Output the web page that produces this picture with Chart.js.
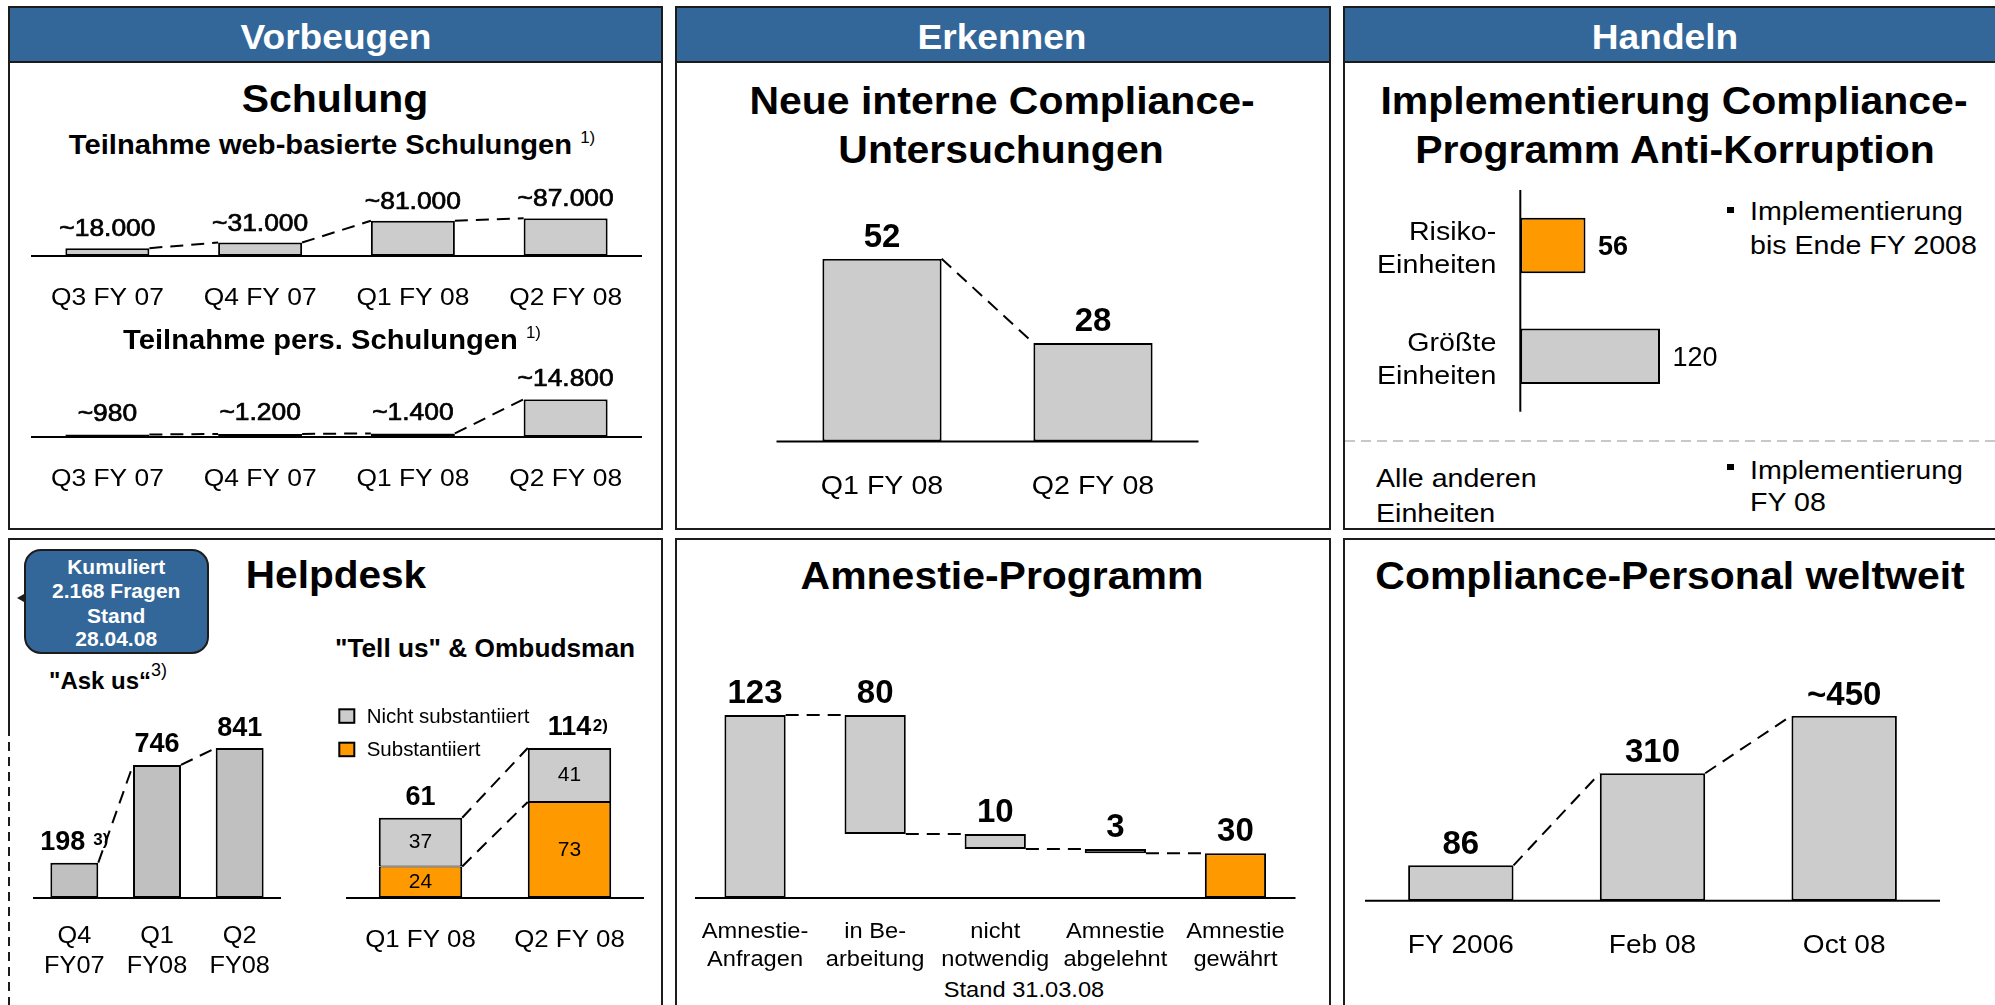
<!DOCTYPE html>
<html><head><meta charset="utf-8">
<script src="https://cdn.jsdelivr.net/npm/chart.js@4.4.1/dist/chart.umd.min.js"></script>
<style>
html,body{margin:0;padding:0;background:#fff;}
body{width:1995px;height:1005px;position:relative;overflow:hidden;font-family:"Liberation Sans",Arial,Helvetica,sans-serif;color:#000;}
.panel{position:absolute;box-sizing:border-box;border:2px solid #1c1c1c;background:#fff;z-index:0;}
.hdr{position:absolute;left:0;right:0;top:0;height:55px;box-sizing:border-box;background:#336699;border-bottom:2px solid #1c1c1c;}
.t{position:absolute;white-space:nowrap;line-height:1;z-index:5;}
.sp{font-size:.58em;font-weight:normal;position:relative;top:-.7em;}
canvas{position:absolute;z-index:3;}
.abs{position:absolute;z-index:4;}
</style></head><body>
<div class="panel" style="left:8px;top:6px;width:655px;height:524px"><div class="hdr"></div></div>
<div class="panel" style="left:675px;top:6px;width:656px;height:524px"><div class="hdr"></div></div>
<div class="panel" style="left:1343px;top:6px;width:655px;height:524px"><div class="hdr"></div></div>
<div class="panel" style="left:8px;top:538px;width:655px;height:480px;border-left:none"></div>
<div class="panel" style="left:675px;top:538px;width:656px;height:480px"></div>
<div class="panel" style="left:1343px;top:538px;width:655px;height:480px"></div>
<div class="abs" style="left:8px;top:538px;width:2px;height:189px;background:#1c1c1c"></div>
<div class="abs" style="left:8px;top:727px;width:2px;height:280px;background:repeating-linear-gradient(to bottom,#1c1c1c 0 9px,transparent 9px 15px)"></div>
<div class="abs" style="left:1345px;top:440px;width:650px;height:2px;background:repeating-linear-gradient(to right,#c8c8c8 0 10px,transparent 10px 16px)"></div>
<div class="abs" style="left:1727px;top:206.5px;width:7px;height:6.5px;background:#000"></div>
<div class="abs" style="left:1727px;top:463.5px;width:7px;height:6.5px;background:#000"></div>
<div class="abs" style="left:24px;top:549px;width:185px;height:105px;box-sizing:border-box;border:2px solid #1c1c1c;border-radius:17px;background:#336699"></div>
<div class="abs" style="left:17px;top:594px;width:0;height:0;border-top:4px solid transparent;border-bottom:4px solid transparent;border-right:7px solid #1c1c1c"></div>
<script>
// ---------------- DATA ----------------
const webCategories = ['Q3 FY 07', 'Q4 FY 07', 'Q1 FY 08', 'Q2 FY 08'];
const webValues = [18000, 31000, 81000, 87000];
const webLabels = ['~18.000', '~31.000', '~81.000', '~87.000'];
const persCategories = ['Q3 FY 07', 'Q4 FY 07', 'Q1 FY 08', 'Q2 FY 08'];
const persValues = [980, 1200, 1400, 14800];
const persLabels = ['~980', '~1.200', '~1.400', '~14.800'];
const investCategories = ['Q1 FY 08', 'Q2 FY 08'];
const investValues = [52, 28];
const implCategories = [['Risiko-', 'Einheiten'], ['Größte', 'Einheiten']];
const implValues = [56, 120];
const askCategories = [['Q4', 'FY07'], ['Q1', 'FY08'], ['Q2', 'FY08']];
const askValues = [198, 746, 841];
const tellCategories = ['Q1 FY 08', 'Q2 FY 08'];
const tellSubstantiiert = [24, 73];
const tellNichtSubstantiiert = [37, 41];
const tellTotals = [61, 114];
const amnCategories = [['Amnestie-', 'Anfragen'], ['in Be-', 'arbeitung'], ['nicht', 'notwendig'], ['Amnestie', 'abgelehnt'], ['Amnestie', 'gewährt']];
const amnValues = [123, 80, 10, 3, 30];
const amnStart = [0, 43, 33, 30, 0];
const staffCategories = ['FY 2006', 'Feb 08', 'Oct 08'];
const staffValues = [86, 310, 450];
const staffLabels = ['86', '310', '~450'];

// ---------------- HELPERS ----------------
const FONT = '"Liberation Sans", Arial, Helvetica, sans-serif';
const GRAY = '#CCCCCC', GRAY2 = '#C0C0C0', ORANGE = '#FF9900';

function T(html, x, y, o = {}) {
  const d = document.createElement('div');
  d.className = 't'; d.innerHTML = html;
  const s = o.s || 26, sx = o.sx || 1, a = o.a || 'c';
  d.style.fontSize = s + 'px';
  d.style.fontWeight = o.b ? 'bold' : 'normal';
  d.style.color = o.c || '#000';
  d.style.left = x + 'px'; d.style.top = y + 'px';
  const tx = a === 'c' ? '-50%' : (a === 'r' ? '-100%' : '0');
  d.style.transformOrigin = a === 'c' ? 'center center' : (a === 'r' ? 'right center' : 'left center');
  d.style.transform = `translate(${tx},-50%) scaleX(${sx})`;
  document.body.appendChild(d);
}

function txt(ctx, s, x, y, size, weight, align, sx, stroke) {
  ctx.save();
  ctx.font = `${weight} ${size}px ${FONT}`;
  ctx.textAlign = align; ctx.textBaseline = 'alphabetic'; ctx.fillStyle = '#000';
  ctx.translate(x, y); ctx.scale(sx || 1, 1); ctx.fillText(s, 0, 0);
  if (stroke) { ctx.lineWidth = stroke; ctx.strokeStyle = '#000'; ctx.setLineDash([]); ctx.strokeText(s, 0, 0); }
  ctx.restore();
}
function tw(ctx, s, size, weight, sx) {
  ctx.save(); ctx.font = `${weight} ${size}px ${FONT}`;
  const w = ctx.measureText(s).width * (sx || 1); ctx.restore(); return w;
}

const deco = {
  id: 'deco',
  afterDatasetsDraw(chart, args, o) {
    if (!o || !o.on) return;
    const ctx = chart.ctx, ca = chart.chartArea, horiz = chart.options.indexAxis === 'y';
    const xs = chart.scales.x, ys = chart.scales.y;
    ctx.save();
    // connectors
    if (o.connect) {
      ctx.setLineDash([13, 8]); ctx.lineWidth = 2; ctx.strokeStyle = '#000';
      chart.data.datasets.forEach((ds, di) => {
        const els = chart.getDatasetMeta(di).data;
        for (let i = 0; i < els.length - 1; i++) {
          const a = els[i].getProps(['x', 'y', 'base', 'width'], true);
          const b = els[i + 1].getProps(['x', 'y', 'base', 'width'], true);
          ctx.beginPath();
          if (o.connect === 'waterfall') {
            const yy = Math.min(b.y, b.base);
            ctx.moveTo(a.x + a.width / 2, yy); ctx.lineTo(b.x - b.width / 2, yy);
          } else {
            ctx.moveTo(a.x + a.width / 2, Math.min(a.y, a.base));
            ctx.lineTo(b.x - b.width / 2, Math.min(b.y, b.base));
          }
          ctx.stroke();
        }
      });
      ctx.setLineDash([]);
    }
    // baseline / axis line
    ctx.strokeStyle = '#000'; ctx.lineWidth = 2; ctx.beginPath();
    if (horiz) { const x0 = xs.getPixelForValue(0); ctx.moveTo(x0, ca.top); ctx.lineTo(x0, ca.bottom); }
    else { const y0 = ys.getPixelForValue(0); ctx.moveTo(ca.left, y0); ctx.lineTo(ca.right, y0); }
    ctx.stroke();
    // value labels
    (o.labels || []).forEach(L => {
      const els = chart.getDatasetMeta(L.ds).data;
      els.forEach((el, i) => {
        const p = el.getProps(['x', 'y', 'base', 'width', 'height'], true);
        const s = String(L.texts[i]);
        const wt = (L.weights && L.weights[i]) || L.weight || 'normal';
        const sx = L.sx || 1;
        if (L.pos === 'center') {
          const cy = (p.y + p.base) / 2 - 1.5;
          txt(ctx, s, p.x, cy + 0.358 * L.size, L.size, wt, 'center', sx, L.stroke);
        } else if (L.pos === 'end') {
          txt(ctx, s, Math.max(p.x, p.base) + L.gap, p.y + 0.358 * L.size, L.size, wt, 'left', sx, L.stroke);
        } else {
          const by = Math.min(p.y, p.base) - L.gap;
          const sup = L.sups && L.sups[i];
          if (!sup) txt(ctx, s, p.x, by, L.size, wt, 'center', sx, L.stroke);
          else {
            const w1 = tw(ctx, s, L.size, wt, sx), w2 = tw(ctx, sup, L.supSize, L.supWeight, sx);
            const x1 = L.supMode === 'composite' ? p.x - (w1 + L.supGap + w2) / 2 : p.x - w1 / 2;
            txt(ctx, s, x1, by, L.size, wt, 'left', sx, L.stroke);
            txt(ctx, sup, x1 + w1 + L.supGap, by - L.supRaise, L.supSize, L.supWeight, 'left', sx);
          }
        }
      });
    });
    // category labels
    if (o.cats) {
      const C = o.cats;
      chart.data.labels.forEach((lab, i) => {
        const lines = Array.isArray(lab) ? lab : [lab];
        if (horiz) {
          const cy = ys.getPixelForValue(i);
          lines.forEach((ln, k) => txt(ctx, ln, ca.left - C.right, cy + C.offsets[k], C.size, 'normal', 'right', C.sx));
        } else {
          const cx = xs.getPixelForValue(i);
          lines.forEach((ln, k) => txt(ctx, ln, cx, ca.bottom + C.first + k * (C.lh || 0), C.size, 'normal', 'center', C.sx));
        }
      });
    }
    // legend
    if (o.legend) {
      const G = o.legend;
      G.order.forEach((di, k) => {
        const ds = chart.data.datasets[di];
        const x = ca.left + G.dx, y = ca.top + G.dy + k * G.step;
        ctx.fillStyle = ds.backgroundColor; ctx.fillRect(x, y, G.w, G.h);
        ctx.lineWidth = 2; ctx.strokeStyle = '#000'; ctx.strokeRect(x, y, G.w, G.h);
        txt(ctx, ds.label, x + G.tx, y + G.h / 2 + 0.358 * G.size, G.size, 'normal', 'left', G.sx);
      });
    }
    ctx.restore();
  }
};
Chart.register(deco);

function mk(area, m, cfg) {
  const c = document.createElement('canvas');
  const left = Math.floor(area.L - m.l), top = Math.floor(area.T - m.t);
  const W = Math.ceil(area.R + m.r) - left, H = Math.ceil(area.B + m.b) - top;
  c.width = W; c.height = H;
  c.style.left = left + 'px'; c.style.top = top + 'px';
  c.style.width = W + 'px'; c.style.height = H + 'px';
  document.body.appendChild(c);
  const horiz = cfg.horiz;
  const valScale = { display: false, min: 0, max: cfg.max, stacked: !!cfg.stacked };
  const catScale = { display: false, stacked: !!cfg.stacked };
  return new Chart(c.getContext('2d'), {
    type: 'bar',
    data: { labels: cfg.labels, datasets: cfg.datasets },
    options: {
      indexAxis: horiz ? 'y' : 'x',
      responsive: false, animation: false, devicePixelRatio: 1, events: [],
      layout: { padding: { left: area.L - left, right: W - (area.R - left), top: area.T - top, bottom: H - (area.B - top) } },
      plugins: { legend: { display: false }, tooltip: { enabled: false }, deco: Object.assign({ on: true }, cfg.deco) },
      scales: horiz ? { x: valScale, y: catScale } : { x: catScale, y: valScale }
    }
  });
}
function bar(data, color, bp, extra) {
  return Object.assign({ data, backgroundColor: color, borderColor: '#000', borderWidth: 2, borderSkipped: false,
    barPercentage: bp, categoryPercentage: 1 }, extra || {});
}

// ---------------- CHARTS ----------------
// Schulung web
mk({ L: 31, R: 642, T: 218.2, B: 256 }, { l: 10, r: 10, t: 48, b: 62 }, {
  labels: webCategories, max: 87000,
  datasets: [bar(webValues, GRAY, 0.55)],
  deco: { connect: 'top', labels: [{ ds: 0, texts: webLabels, size: 24, weight: 'normal', gap: 12, sx: 1.1, stroke: 0.7 }],
    cats: { size: 24, sx: 1.1, first: 48.5 } }
});
// Schulung pers
mk({ L: 31, R: 642, T: 399.2, B: 437 }, { l: 10, r: 10, t: 46, b: 62 }, {
  labels: persCategories, max: 14800,
  datasets: [bar(persValues, GRAY, 0.55)],
  deco: { connect: 'top', labels: [{ ds: 0, texts: persLabels, size: 24, weight: 'normal', gap: 13.5, sx: 1.1, stroke: 0.7 }],
    cats: { size: 24, sx: 1.1, first: 48.5 } }
});
// Untersuchungen
mk({ L: 776.5, R: 1198.5, T: 258.7, B: 441.5 }, { l: 10, r: 10, t: 50, b: 70 }, {
  labels: investCategories, max: 52,
  datasets: [bar(investValues, GRAY, 0.565)],
  deco: { connect: 'top', labels: [{ ds: 0, texts: investValues, size: 33, weight: 'bold', gap: 12, sx: 1.0 }],
    cats: { size: 26, sx: 1.1, first: 52.4 } }
});
// Anti-Korruption (horizontal)
mk({ L: 1520.3, R: 1660, T: 190, B: 411.7 }, { l: 170, r: 70, t: 8, b: 8 }, {
  horiz: true, labels: implCategories, max: 120,
  datasets: [bar(implValues, [ORANGE, GRAY], 0.5)],
  deco: { labels: [{ ds: 0, texts: implValues, weights: ['bold', 'normal'], size: 27, pos: 'end', gap: 12.5, sx: 1.0 }],
    cats: { size: 26, sx: 1.1, right: 24, offsets: [-5, 28] } }
});
// Ask us
mk({ L: 33, R: 281, T: 748, B: 898 }, { l: 28, r: 20, t: 42, b: 86 }, {
  labels: askCategories, max: 841,
  datasets: [bar(askValues, GRAY2, 0.58)],
  deco: { connect: 'top',
    labels: [{ ds: 0, texts: askValues, sups: ['3)', null, null], supMode: 'composite', supSize: 17, supWeight: 'bold',
      supRaise: 5, supGap: 8, size: 27, weight: 'bold', gap: 12.5, sx: 1.0 }],
    cats: { size: 23, sx: 1.1, first: 45.3, lh: 30 } }
});
// Tell us & Ombudsman (stacked)
mk({ L: 346, R: 644, T: 748, B: 898 }, { l: 16, r: 14, t: 62, b: 62 }, {
  labels: tellCategories, max: 114, stacked: true,
  datasets: [
    bar(tellSubstantiiert, ORANGE, 0.56, { label: 'Substantiiert', borderWidth: { left: 2, right: 2, bottom: 2, top: 1 } }),
    bar(tellNichtSubstantiiert, GRAY, 0.56, { label: 'Nicht substantiiert', borderWidth: { left: 2, right: 2, top: 2, bottom: 1 } })
  ],
  deco: { connect: 'top',
    labels: [
      { ds: 0, texts: tellSubstantiiert, pos: 'center', size: 21, weight: 'normal', sx: 1.0 },
      { ds: 1, texts: tellNichtSubstantiiert, pos: 'center', size: 21, weight: 'normal', sx: 1.0 },
      { ds: 1, texts: tellTotals, sups: [null, '2)'], supMode: 'main', supSize: 17, supWeight: 'bold', supRaise: 4,
        supGap: 1.5, size: 27, weight: 'bold', gap: 12.6, sx: 1.0 }
    ],
    legend: { order: [1, 0], dx: -6.7, dy: -38.7, w: 15, h: 13.5, step: 33.4, tx: 27.4, size: 19.5, sx: 1.05 },
    cats: { size: 23.5, sx: 1.1, first: 48.7 } }
});
// Amnestie waterfall
mk({ L: 695, R: 1295.5, T: 715, B: 898 }, { l: 25, r: 30, t: 50, b: 76 }, {
  labels: amnCategories, max: 123,
  datasets: [bar(amnValues.map((v, i) => [amnStart[i], amnStart[i] + v]), [GRAY, GRAY, GRAY, GRAY, ORANGE], 0.51)],
  deco: { connect: 'waterfall', labels: [{ ds: 0, texts: amnValues, size: 33, weight: 'bold', gap: 12, sx: 1.0 }],
    cats: { size: 21.5, sx: 1.1, first: 40.2, lh: 28 } }
});
// Compliance-Personal
mk({ L: 1365, R: 1940, T: 715.7, B: 900.7 }, { l: 20, r: 20, t: 50, b: 66 }, {
  labels: staffCategories, max: 450,
  datasets: [bar(staffValues, GRAY, 0.55)],
  deco: { connect: 'top', labels: [{ ds: 0, texts: staffLabels, size: 33, weight: 'bold', gap: 11, sx: 1.0 }],
    cats: { size: 25.5, sx: 1.1, first: 52.3 } }
});

// ---------------- TEXT ----------------
T('Vorbeugen', 335.5, 35.7, { s: 35, b: 1, c: '#fff', sx: 1.06 });
T('Erkennen', 1002.2, 35.7, { s: 35, b: 1, c: '#fff', sx: 1.06 });
T('Handeln', 1665, 35.7, { s: 35, b: 1, c: '#fff', sx: 1.06 });

T('Schulung', 334.5, 98.1, { s: 39, b: 1, sx: 1.05 });
T('Teilnahme web-basierte Schulungen <span class="sp">1)</span>', 331.5, 145.2, { s: 27.5, b: 1, sx: 1.06 });
T('Teilnahme pers. Schulungen <span class="sp">1)</span>', 332, 339.9, { s: 27.5, b: 1, sx: 1.06 });

T('Neue interne Compliance-', 1002, 99.8, { s: 39, b: 1, sx: 1.05 });
T('Untersuchungen', 1001, 148.9, { s: 39, b: 1, sx: 1.05 });

T('Implementierung Compliance-', 1674, 99.8, { s: 39, b: 1, sx: 1.05 });
T('Programm Anti-Korruption', 1674.5, 148.9, { s: 39, b: 1, sx: 1.05 });
T('Implementierung', 1750, 211.4, { s: 26, a: 'l', sx: 1.1 });
T('bis Ende FY 2008', 1750, 245.2, { s: 26, a: 'l', sx: 1.1 });
T('Implementierung', 1750, 470.2, { s: 26, a: 'l', sx: 1.1 });
T('FY 08', 1750, 502.4, { s: 26, a: 'l', sx: 1.1 });
T('Alle anderen', 1376, 477.8, { s: 26, a: 'l', sx: 1.1 });
T('Einheiten', 1376, 513.4, { s: 26, a: 'l', sx: 1.1 });

T('Kumuliert', 116.2, 565.8, { s: 21, b: 1, c: '#fff' });
T('2.168 Fragen', 116.2, 590, { s: 21, b: 1, c: '#fff' });
T('Stand', 116.2, 615, { s: 21, b: 1, c: '#fff' });
T('28.04.08', 116.2, 638.3, { s: 21, b: 1, c: '#fff' });
T('Helpdesk', 335.5, 574, { s: 39, b: 1, sx: 1.04 });
T('&quot;Ask us&ldquo;<span class="sp" style="font-size:.75em">3)</span>', 49, 680.8, { s: 24, b: 1, a: 'l' });
T('&quot;Tell us&quot; &amp; Ombudsman', 485, 648, { s: 25, b: 1, sx: 1.05 });

T('Amnestie-Programm', 1002, 575, { s: 39, b: 1, sx: 1.05 });
T('Stand 31.03.08', 1024, 990.5, { s: 21.5, sx: 1.1 });

T('Compliance-Personal weltweit', 1670, 575, { s: 39, b: 1, sx: 1.05 });
</script>
</body></html>
